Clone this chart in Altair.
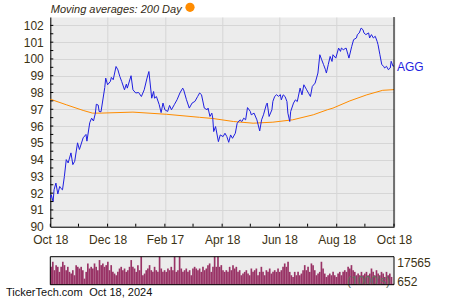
import altair as alt
import pandas as pd

START = pd.Timestamp("2023-10-18")
FONT = "Liberation Sans"
TXT = "#3c3214"

# price (days after Oct 18, 2023) and closing values
price_days = [0, 1, 3, 4, 6, 8, 10, 11, 13, 15, 17, 19, 22, 24, 26, 29, 31, 35, 38, 39,
              42, 44, 46, 48, 49, 51, 52, 54, 58, 59, 61, 64, 65, 67, 70, 72, 74, 76, 79, 81,
              82, 86, 88, 91, 94, 97, 100, 103, 105, 108, 110, 111, 113, 116, 118, 120, 122, 125, 127, 129,
              132, 135, 138, 141, 142, 145, 148, 151, 154, 157, 159, 161, 164, 167, 168, 170, 172, 173, 174, 176,
              179, 181, 184, 186, 188, 190, 192, 194, 197, 199, 202, 204, 206, 208, 210, 213, 214, 217, 220, 223,
              225, 227, 230, 231, 233, 236, 237, 239, 241, 243, 245, 246, 248, 250, 252, 253, 255, 256, 259, 261,
              263, 266, 268, 270, 273, 275, 277, 279, 282, 285, 287, 289, 291, 293, 294, 296, 298, 300, 301, 304,
              307, 309, 310, 312, 315, 317, 318, 321, 323, 326, 327, 329, 331, 333, 334, 336, 339, 340, 342, 344,
              346, 348, 349, 351, 353, 355, 356, 358, 360, 362, 363, 365, 366]
price_vals = [91.7, 91.9, 91.5, 92.2, 92.6, 91.95, 92.4, 92.3, 92.2, 93.0, 94.0, 93.8, 94.4, 93.7, 93.9, 95.0, 94.6, 95.3, 95.5, 95.1,
              96.2, 96.47, 96.3, 96.77, 97.3, 97.25, 96.87, 96.85, 98.3, 98.86, 98.46, 98.66, 98.9, 98.76, 99.55, 99.35, 98.96, 98.66, 98.16, 98.5,
              98.26, 99.0, 98.16, 97.97, 98.0, 97.76, 98.16, 98.86, 99.25, 97.66, 98.06, 97.66, 97.76, 97.27, 96.8, 97.37, 96.97, 96.87, 97.23, 96.97,
              97.27, 97.57, 97.97, 98.26, 98.16, 97.57, 97.07, 97.37, 97.47, 97.77, 97.97, 97.87, 97.07, 96.97, 97.07, 96.57, 96.77, 96.47, 95.67, 95.97,
              95.07, 95.47, 95.37, 95.57, 95.37, 95.03, 95.47, 95.27, 95.57, 96.17, 96.37, 96.27, 96.47, 96.37, 97.1, 96.87, 96.67, 96.77, 96.37, 95.71,
              96.37, 96.67, 97.27, 97.37, 96.57, 96.97, 97.47, 97.77, 97.87, 97.77, 97.87, 97.56, 97.86, 97.76, 97.46, 96.77, 96.27, 96.87, 97.37, 97.56,
              97.46, 98.26, 97.86, 98.46, 98.16, 97.96, 97.76, 98.36, 98.56, 99.16, 100.25, 99.95, 99.66, 99.36, 99.16, 99.66, 100.15, 99.85, 100.25, 100.05,
              100.65, 100.45, 100.65, 100.55, 100.65, 100.25, 100.05, 100.75, 101.15, 101.25, 101.45, 101.55, 101.84, 101.74, 101.55, 101.45, 101.55, 101.25, 101.45, 101.25,
              101.35, 101.05, 100.85, 100.25, 99.66, 99.56, 99.46, 99.56, 99.36, 99.46, 99.86, 99.56, 99.6]

# 200-day moving average
ma_days = [0, 17, 35, 45, 53, 88, 124, 159, 173, 195, 216, 237, 258, 280, 295, 301, 319, 337, 354, 366]
ma_vals = [97.6, 97.27, 96.93, 96.77, 96.77, 96.83, 96.7, 96.52, 96.45, 96.27, 96.17, 96.23, 96.37, 96.67, 96.97, 97.07,
           97.5, 97.86, 98.13, 98.17]

# daily volume (1000's)
volume = [11450, 14510, 9410, 12470, 11450, 8400, 11450, 14510, 12470, 9410,
          11450, 8400, 7380, 9410, 6360, 12470, 11450, 10430, 11450, 9410,
          4320, 8400, 13490, 10430, 11450, 10430, 13490, 11450, 9410, 15530,
          12470, 13490, 11450, 12470, 14510, 9410, 12470, 8400, 7380, 6360,
          8400, 10430, 11450, 9410, 10430, 8400, 9410, 11450, 15530, 11450,
          10430, 8400, 12470, 9410, 17565, 6360, 7380, 9410, 10430, 12470,
          9410, 8400, 11450, 9410, 8400, 17565, 10430, 8400, 9410, 8400,
          10430, 9410, 11450, 9410, 17565, 8400, 9410, 17565, 10430, 8400,
          9410, 10430, 8400, 9410, 6360, 10430, 11450, 10430, 9410, 10430,
          8400, 11450, 9410, 10430, 12470, 13490, 8400, 11450, 18200, 11450,
          18200, 11450, 12470,
          9410, 8400, 9410, 8400, 11450, 9410, 12470, 10430, 11450, 8400,
          9410, 6360, 7380, 8400, 9410, 7380, 6360, 10430, 8400, 9410,
          10430, 6360, 8400, 11450, 8400, 6360, 9410, 8400, 10430, 7380,
          8400, 9410, 8400, 10430, 8400, 9410, 11450, 13490, 11450, 14510,
          8400, 6360, 5340, 8400, 6360, 8400, 6360, 7380, 9410, 12470,
          9410, 11450, 8400, 13490, 12470, 9410, 6360, 7380, 8400, 14510,
          10430, 7380, 5340, 6360, 7380, 6360, 8400, 6360, 5340, 7380,
          8400, 6360, 8400, 9410, 8400, 11450, 10430, 12470, 9410, 8400,
          6360, 7380, 6360, 8400, 6360, 7380, 8400, 6360, 7380, 10430,
          8400, 6360, 9410, 7380, 6360, 8400, 7380, 5340, 8400, 6360,
          7380, 5340, 1260]

assert len(price_days) == len(price_vals), (len(price_days), len(price_vals))
assert len(ma_days) == len(ma_vals)

y_labels = list(range(90, 103))
y_minor = [v / 2 for v in range(181, 205)]
major_dates = ["2023-10-18", "2023-12-18", "2024-02-17", "2024-04-18", "2024-06-18", "2024-08-18", "2024-10-18"]
minor_dates = ["2023-11-17", "2024-01-17", "2024-03-18", "2024-05-18", "2024-07-18", "2024-09-17"]

W, H = 343.7, 209.7


def iso(days):
    return [(START + pd.Timedelta(days=int(d))).strftime("%Y-%m-%dT%H:%M:%S") for d in days]


def dt(s):
    y, m, d = (int(p) for p in s.split("-"))
    return alt.DateTime(year=y, month=m, date=d)


price_df = pd.DataFrame({"d": iso(price_days), "p": price_vals})
ma_df = pd.DataFrame({"d": iso(ma_days), "p": ma_vals})
tick_df = pd.DataFrame({"d": [s + "T00:00:00" for s in major_dates + minor_dates]})
ytick_df = pd.DataFrame({"p": y_minor})
end_df = pd.DataFrame({"d": [major_dates[-1] + "T00:00:00"]})
last_df = price_df.tail(1)
one = pd.DataFrame({"a": [0]})

xscale = alt.Scale(domain=[dt(major_dates[0]), dt(major_dates[-1])], nice=False)
yscale = alt.Scale(domain=[90, 102.5], nice=False, zero=False)

x_axis = alt.Axis(values=[dt(s) for s in major_dates], format="%b %d", grid=True, ticks=False, tickSize=0,
                  labelPadding=8, domain=True, domainColor="black", labelFlush=False, labelOverlap=False)
y_axis = alt.Axis(values=y_labels, grid=True, ticks=False, tickSize=0, labelPadding=7, domain=True,
                  domainColor="black")

X = alt.X("d:T", scale=xscale, axis=x_axis, title=None)
Y = alt.Y("p:Q", scale=yscale, axis=y_axis, title=None)

ma_line = alt.Chart(ma_df).mark_line(color="#ff8c00", strokeWidth=1).encode(x=X, y=Y)
price_line = alt.Chart(price_df).mark_line(color="#1f1fe0", strokeWidth=1).encode(x=X, y=Y)
agg = alt.Chart(last_df).mark_text(text="AGG", align="left", baseline="middle", dx=3, dy=1,
                                   font=FONT, fontSize=12, color="#1f1fe0").encode(x=X, y=Y)
xticks = alt.Chart(tick_df).mark_rule(color="black").encode(x=X, y=alt.value(H), y2=alt.value(H - 3))
yticks = alt.Chart(ytick_df).mark_rule(color="black").encode(y=Y, x=alt.value(0), x2=alt.value(3))
right = alt.Chart(end_df).mark_rule(color="black").encode(x=X, y=alt.value(0), y2=alt.value(H))

title = alt.Chart(one).mark_text(text="Moving averages: 200 Day", align="left", baseline="alphabetic",
                                 font=FONT, fontSize=11, fontStyle="italic", color="#332a14").encode(
    x=alt.value(0.5), y=alt.value(-4))
dot = alt.Chart(one).mark_circle(color="#ff8c00", opacity=1, size=85).encode(x=alt.value(139.7), y=alt.value(-9.7))
footer1 = alt.Chart(one).mark_text(text="TickerTech.com", align="left", baseline="middle", font=FONT,
                                   fontSize=11, color="#111111").encode(x=alt.value(-44.3), y=alt.value(276))
footer2 = alt.Chart(one).mark_text(text="Oct 18, 2024", align="left", baseline="middle", font=FONT,
                                   fontSize=11, color="#111111").encode(x=alt.value(39), y=alt.value(276))
vlab1 = alt.Chart(one).mark_text(text="17565", align="left", baseline="middle", font=FONT,
                                 fontSize=12, color=TXT).encode(x=alt.value(347), y=alt.value(246.3))
vlab2 = alt.Chart(one).mark_text(text="652", align="left", baseline="middle", font=FONT,
                                 fontSize=12, color=TXT).encode(x=alt.value(347), y=alt.value(264.7))

price_layer = alt.layer(ma_line, price_line, xticks, yticks, right, agg)
deco_layer = alt.layer(title, dot, footer1, footer2, vlab1, vlab2)

# volume panel
n = len(volume)
vol_df = pd.DataFrame({"i": list(range(n)), "v": volume})
vol_df["i2"] = vol_df["i"] + 1
panel_df = pd.DataFrame({"i": [0], "i2": [n], "v": [17565], "v0": [652]})
vx = alt.Scale(domain=[0, n], nice=False, zero=False)
vy = alt.Scale(domain=[652, 17565], range=[267.7, 239.7], clamp=True, nice=False, zero=False)
VX = alt.X("i:Q", scale=vx, axis=None)
VY = alt.Y("v:Q", scale=vy, axis=None)

vbg = alt.Chart(panel_df).mark_rect(fill="#ececec").encode(x=VX, x2="i2:Q", y=VY, y2="v0:Q")
vbars = alt.Chart(vol_df).mark_rect(fill="#993366").encode(x=VX, x2="i2:Q", y=VY, y2=alt.datum(652))
vunit = alt.Chart(one).mark_text(text="(1000's)", align="right", baseline="middle", font=FONT,
                                 fontSize=12, color="#5e735e").encode(x=alt.value(339.7), y=alt.value(263.7))
vframe = alt.Chart(panel_df).mark_rect(fill="transparent", stroke="black", strokeWidth=1).encode(
    x=VX, x2="i2:Q", y=VY, y2="v0:Q")
vol_layer = alt.layer(vbg, vbars, vunit, vframe)

chart = alt.layer(price_layer, vol_layer, deco_layer).resolve_scale(
    x="independent", y="independent").resolve_axis(x="independent", y="independent").properties(
    width=W, height=H,
    autosize=alt.AutoSizeParams(type="none"),
    padding={"left": 50.3, "top": 17, "right": 56, "bottom": 73.3},
    background="white",
).configure_view(fill="#ececec", stroke="transparent").configure_axis(
    labelFont=FONT, labelFontSize=12, labelColor=TXT, gridColor="#d6d6d6", gridWidth=1, domainWidth=1
)

chart.save("out.html", embed_options={"renderer": "svg", "actions": False})
